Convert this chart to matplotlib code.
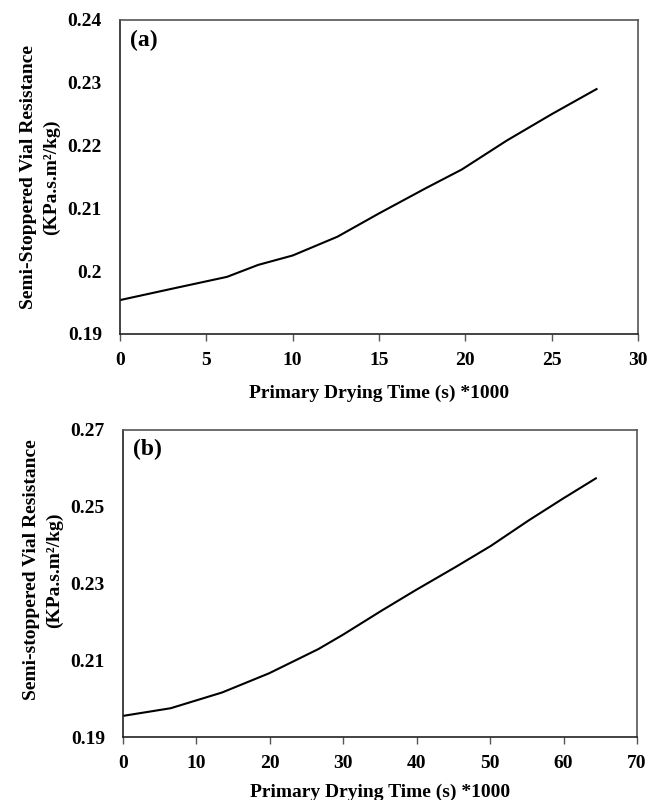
import matplotlib
matplotlib.use('Agg')
import matplotlib.pyplot as plt

# panel (a): semi-stoppered vial resistance vs time
time_a = [0, 3, 6.2, 8, 10, 12.6, 15, 17.7, 19.8, 22.4, 25, 27.6]
res_a = [0.1954, 0.1972, 0.1991, 0.2010, 0.2025, 0.2055, 0.2092, 0.2132,
         0.2162, 0.2208, 0.2250, 0.2290]

# panel (b)
time_b = [0, 6.5, 13.5, 19.9, 26.6, 30.0, 35.2, 39.8, 45.3, 50.1, 55.3, 59.9, 64.4]
res_b = [0.1955, 0.1975, 0.2016, 0.2066, 0.2129, 0.2167, 0.2229, 0.2282,
         0.2343, 0.2398, 0.2465, 0.2521, 0.2574]

xticks_a = [0, 5, 10, 15, 20, 25, 30]
yticks_a = [0.19, 0.2, 0.21, 0.22, 0.23, 0.24]
ytick_labels_a = ['0.19', '0.2', '0.21', '0.22', '0.23', '0.24']
xticks_b = [0, 10, 20, 30, 40, 50, 60, 70]
yticks_b = [0.19, 0.21, 0.23, 0.25, 0.27]
ytick_labels_b = ['0.19', '0.21', '0.23', '0.25', '0.27']

plt.rcParams['font.family'] = ['Liberation Serif', 'DejaVu Serif']
plt.rcParams['font.weight'] = 'bold'
plt.rcParams['axes.labelweight'] = 'bold'

fig = plt.figure(figsize=(6.64, 8), dpi=100)
ax1 = fig.add_axes([0.1807, 0.5825, 0.7801, 0.3925])
ax2 = fig.add_axes([0.1852, 0.07875, 0.7741, 0.38375])


def style(ax, xticks, yticks, ylabels, ylabel, panel, ylab_xy, xlab_y):
    ax.set_xlim(xticks[0], xticks[-1])
    ax.set_ylim(yticks[0], yticks[-1])
    ax.set_xticks(xticks)
    ax.set_xticklabels([str(t) for t in xticks])
    ax.set_yticks(yticks)
    ax.set_yticklabels(ylabels)
    ax.tick_params(axis='x', direction='out', length=5, width=1, pad=8,
                   labelsize=14, color='#555555')
    ax.tick_params(axis='y', length=0, pad=13, labelsize=14)
    for side in ['left', 'bottom']:
        ax.spines[side].set_color('#222222')
        ax.spines[side].set_linewidth(1.2)
    for side in ['top', 'right']:
        ax.spines[side].set_color('#555555')
        ax.spines[side].set_linewidth(1.2)
    ax.set_xlabel('Primary Drying Time (s) *1000', fontsize=14, fontweight='bold')
    ax.xaxis.set_label_coords(0.5, xlab_y)
    ax.set_ylabel(ylabel, fontsize=14, fontweight='bold', linespacing=1.45)
    ax.yaxis.set_label_coords(*ylab_xy)
    ax.text(0.02, 0.97, panel, transform=ax.transAxes, fontsize=17,
            fontweight='bold', va='top', ha='left')


ax1.plot(time_a, res_a, color='black', linewidth=1.5)
style(ax1, xticks_a, yticks_a, ytick_labels_a,
      'Semi-Stoppered Vial Resistance\n(KPa.s.m²/kg)', '(a)',
      (-0.116, 0.5), -0.162)

ax2.plot(time_b, res_b, color='black', linewidth=1.5)
style(ax2, xticks_b, yticks_b, ytick_labels_b,
      'Semi-stoppered Vial Resistance\n(KPa.s.m²/kg)', '(b)',
      (-0.117, 0.544), -0.152)

plt.savefig('out.png', dpi=100)
